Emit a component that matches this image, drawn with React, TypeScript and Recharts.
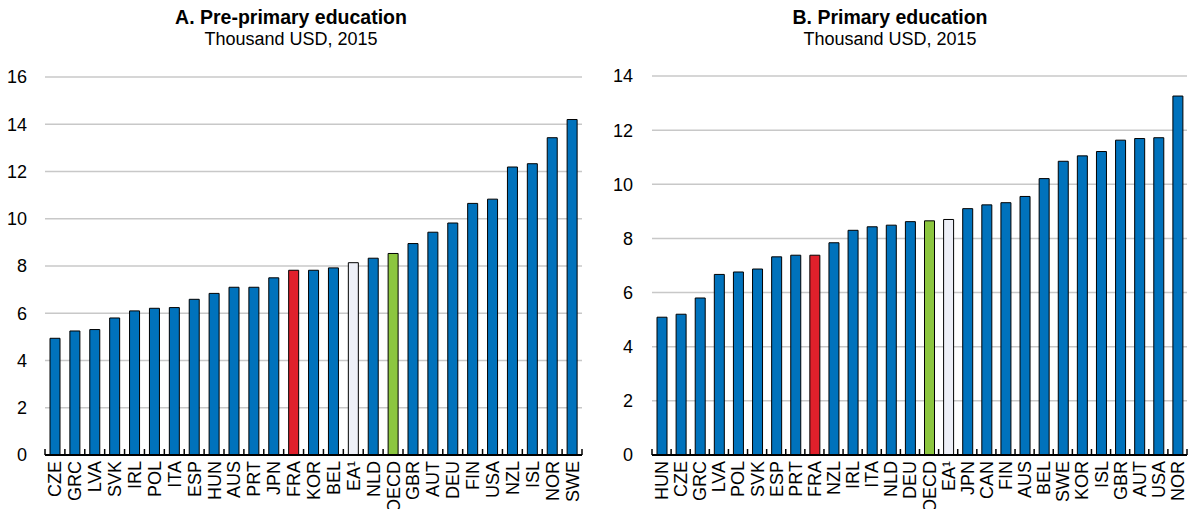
import React from 'react';
import { BarChart, Bar, XAxis, YAxis, CartesianGrid, Cell, ReferenceLine } from 'recharts';

// Panel A: pre-primary education, thousand USD 2015
const preCountries = ['CZE', 'GRC', 'LVA', 'SVK', 'IRL', 'POL', 'ITA', 'ESP', 'HUN', 'AUS', 'PRT', 'JPN', 'FRA', 'KOR', 'BEL', 'EA¹', 'NLD', 'OECD', 'GBR', 'AUT', 'DEU', 'FIN', 'USA', 'NZL', 'ISL', 'NOR', 'SWE'];
const preValues = [4.94, 5.25, 5.31, 5.8, 6.1, 6.21, 6.24, 6.59, 6.84, 7.1, 7.1, 7.5, 7.82, 7.82, 7.92, 8.14, 8.33, 8.53, 8.95, 9.43, 9.82, 10.65, 10.83, 12.19, 12.33, 13.43, 14.2];
const preTicks = [0, 2, 4, 6, 8, 10, 12, 14, 16];

// Panel B: primary education
const primCountries = ['HUN', 'CZE', 'GRC', 'LVA', 'POL', 'SVK', 'ESP', 'PRT', 'FRA', 'NZL', 'IRL', 'ITA', 'NLD', 'DEU', 'OECD', 'EA¹', 'JPN', 'CAN', 'FIN', 'AUS', 'BEL', 'SWE', 'KOR', 'ISL', 'GBR', 'AUT', 'USA', 'NOR'];
const primValues = [5.09, 5.2, 5.8, 6.67, 6.76, 6.87, 7.32, 7.38, 7.38, 7.84, 8.3, 8.43, 8.49, 8.62, 8.65, 8.7, 9.1, 9.24, 9.32, 9.55, 10.21, 10.85, 11.05, 11.21, 11.63, 11.69, 11.72, 13.26];
const primTicks = [0, 2, 4, 6, 8, 10, 12, 14];

const BLUE = '#0072bc';
const colorFor = (name: string) => {
  if (name === 'FRA') return '#e0202b';
  if (name === 'OECD') return '#8cc63f';
  if (name === 'EA¹') return '#eef0f8';
  return BLUE;
};

// category label plus the small upward tick between categories
const makeTick = (count: number, half: number) => (props: any) => {
  const { x, y, payload, index } = props;
  return (
    <g>
      <line x1={x - half} x2={x - half} y1={y - 6} y2={y} stroke="#000" strokeWidth={1.5} />
      {index === count - 1 && (
        <line x1={x + half} x2={x + half} y1={y - 6} y2={y} stroke="#000" strokeWidth={1.5} />
      )}
      <text
        transform={`translate(${x},${y + 6}) rotate(-90)`}
        textAnchor="end"
        dy="0.36em"
        fontSize={18}
        fill="#000"
      >
        {payload.value}
      </text>
    </g>
  );
};

const Panel = ({ names, values, ticks, width, yWidth, tickMargin, top, right, barSize }: any) => {
  const data = names.map((n: string, i: number) => ({ name: n, value: values[i] }));
  const half = (width - yWidth - right) / names.length / 2;
  return (
    <BarChart
      width={width}
      height={509}
      data={data}
      margin={{ top, right, left: 0, bottom: 0 }}
      barSize={barSize}
    >
      <CartesianGrid vertical={false} stroke="#c8c8c8" strokeWidth={1.5} />
      <XAxis
        dataKey="name"
        interval={0}
        height={54}
        tickLine={false}
        tickSize={0}
        tickMargin={0}
        axisLine={false}
        tick={makeTick(names.length, half)}
      />
      <YAxis
        domain={[0, ticks[ticks.length - 1]]}
        ticks={ticks}
        width={yWidth}
        axisLine={false}
        tickLine={false}
        tickSize={0}
        tickMargin={tickMargin}
        tick={{ fontSize: 18, fill: '#000' }}
      />
      <Bar dataKey="value" stroke="#000" strokeWidth={1} isAnimationActive={false}>
        {data.map((d: any) => (
          <Cell key={d.name} fill={colorFor(d.name)} />
        ))}
      </Bar>
      <ReferenceLine y={0} stroke="#000" strokeWidth={2} />
    </BarChart>
  );
};

const titleStyle: React.CSSProperties = {
  position: 'absolute',
  textAlign: 'center',
  fontWeight: 'bold',
  fontSize: 19.5,
  lineHeight: '22px',
  top: 6,
};
const subStyle: React.CSSProperties = {
  position: 'absolute',
  textAlign: 'center',
  fontSize: 18,
  lineHeight: '22px',
  top: 28,
};

export default function App() {
  return (
    <div
      style={{
        position: 'absolute',
        left: 0,
        top: 0,
        width: 1190,
        height: 509,
        background: '#fff',
        fontFamily: "'Liberation Sans', Arial, sans-serif",
        color: '#000',
        overflow: 'hidden',
      }}
    >
      <div style={{ position: 'absolute', left: 0, top: 0 }}>
        <Panel names={preCountries} values={preValues} ticks={preTicks} width={590} yWidth={45} tickMargin={18} top={77} right={8} barSize={10} />
      </div>
      <div style={{ position: 'absolute', left: 590, top: 0 }}>
        <Panel names={primCountries} values={primValues} ticks={primTicks} width={600} yWidth={62} tickMargin={19} top={76} right={3} barSize={10} />
      </div>
      <div style={{ ...titleStyle, left: 0, width: 582 }}>A. Pre-primary education</div>
      <div style={{ ...subStyle, left: 0, width: 582 }}>Thousand USD, 2015</div>
      <div style={{ ...titleStyle, left: 590, width: 600 }}>B. Primary education</div>
      <div style={{ ...subStyle, left: 590, width: 600 }}>Thousand USD, 2015</div>
    </div>
  );
}
